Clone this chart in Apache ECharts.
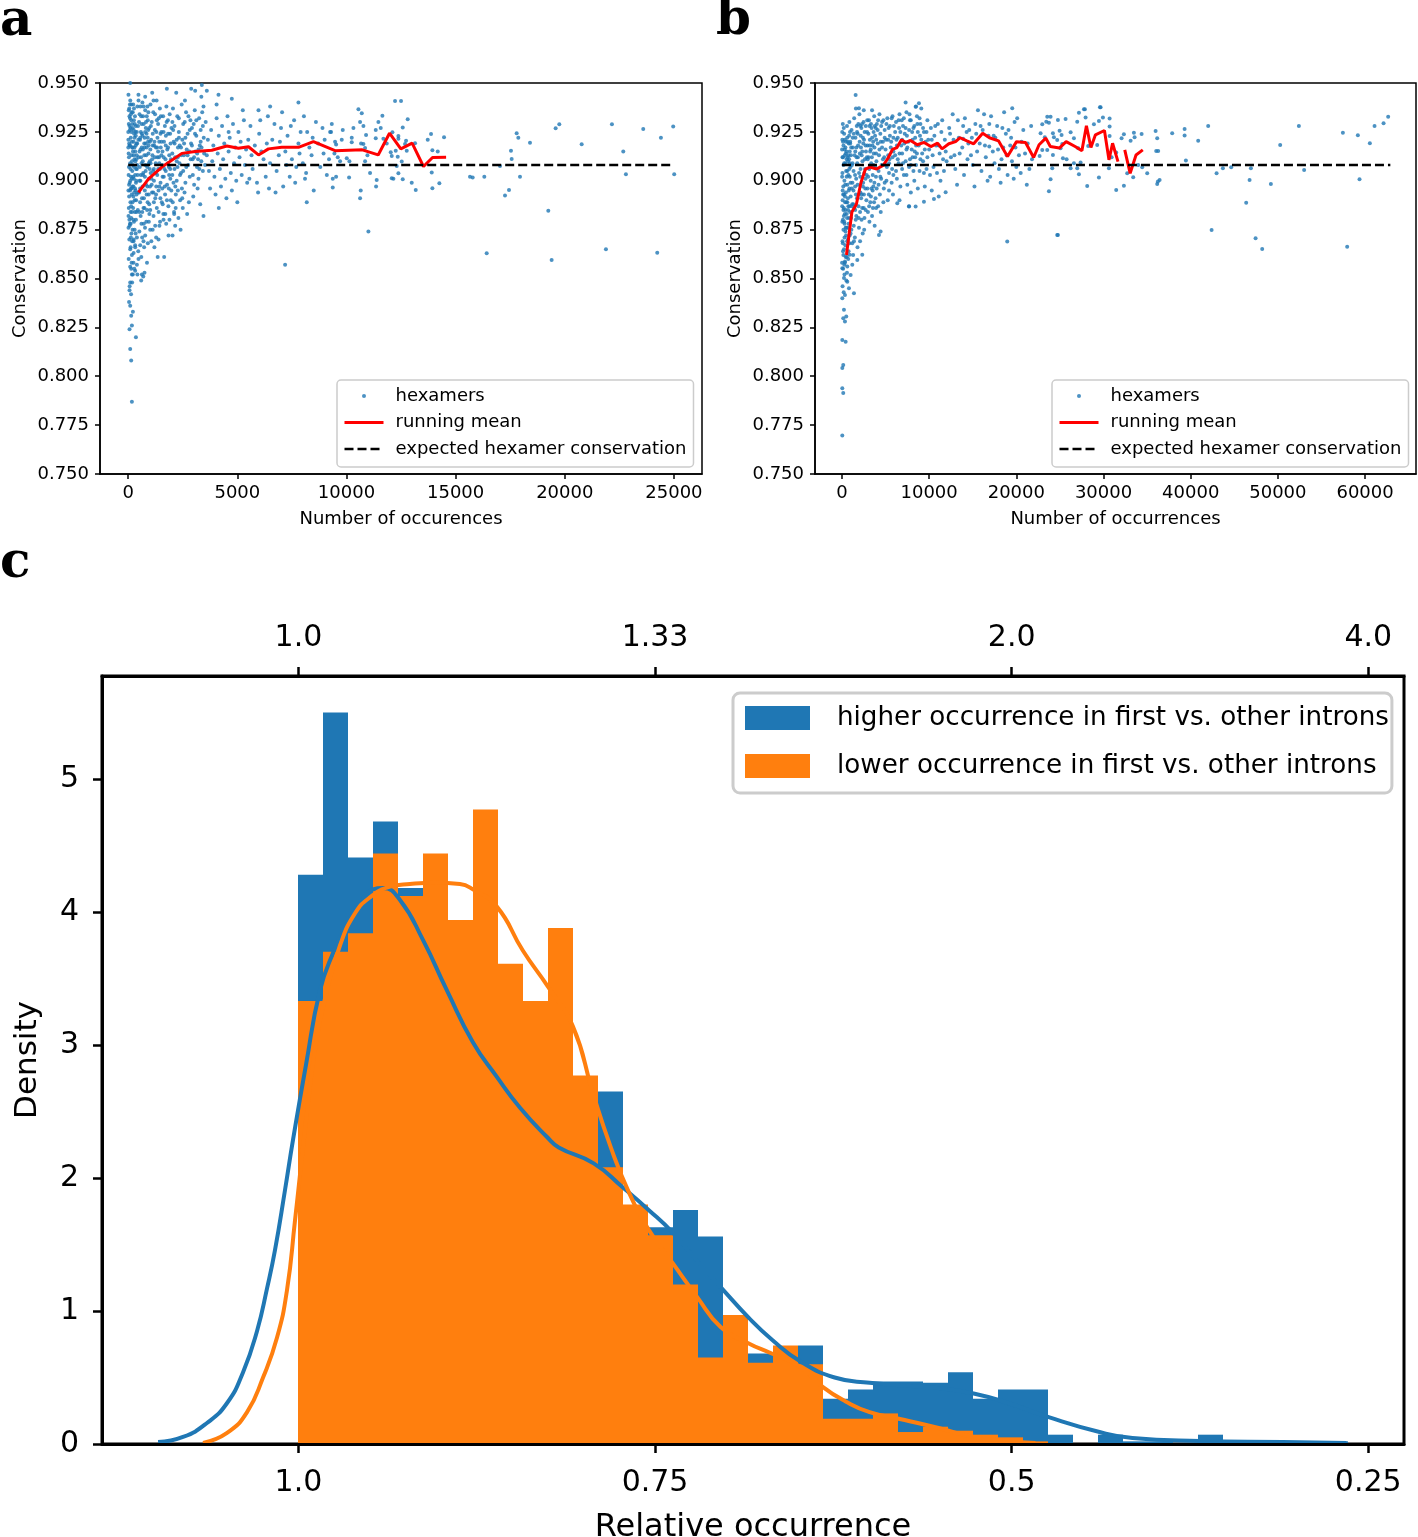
<!DOCTYPE html>
<html><head><meta charset="utf-8">
<script src="https://cdn.jsdelivr.net/npm/echarts@6.0.0/dist/echarts.min.js"></script>
<style>html,body{margin:0;padding:0;background:#fff}#chart{width:1418px;height:1537px}</style>
</head><body><div id="chart"></div>
<script>
// ---------- tick labels ----------
const aTicksX = [0, 5000, 10000, 15000, 20000, 25000];
const bTicksX = [0, 10000, 20000, 30000, 40000, 50000, 60000];
const consTicks = [0.75, 0.775, 0.8, 0.825, 0.85, 0.875, 0.9, 0.925, 0.95];
const cBottomTicks = [1.0, 0.75, 0.5, 0.25];
const cBottomLabels = ['1.0', '0.75', '0.5', '0.25'];
const cTopLabels = ['1.0', '1.33', '2.0', '4.0'];
const densityTicks = [0, 1, 2, 3, 4, 5];

// ---------- panel a ----------
const expectedConservation = 0.908;
const aExpectedRange = [0, 25000];
const aRunMean = [[472,0.894],[930,0.901],[1543,0.907],[2459,0.914],[3068,0.915],[3832,0.9156],[4519,0.9178],[5051,0.9166],[5510,0.9174],[5968,0.9132],[6425,0.9163],[7036,0.9171],[7799,0.9171],[8485,0.920],[9478,0.9154],[10726,0.9158],[11452,0.9132],[11971,0.9243],[12490,0.9163],[13008,0.9192],[13527,0.9073],[13942,0.9119],[14564,0.912]];
const aHexamers = [
[169,0.787],[137,0.808],[92,0.814],[353,0.820],[60,0.824],[169,0.826],[215,0.833],[92,0.836],[137,0.831],[60,0.844],[92,0.848],[169,0.852],[320,0.854],[627,0.852],[746,0.853],[595,0.849],[137,0.855],[243,0.858],[398,0.857],[472,0.860],[169,0.862],[92,0.865],[320,0.866],[549,0.867],[701,0.869],[243,0.869],[122,0.871],[14,0.876],[398,0.871],[778,0.872],[1007,0.875],[1236,0.877],[1389,0.870],[1648,0.861],[1847,0.872],[2030,0.872],[2152,0.877],[2106,0.883],[1618,0.880],[3449,0.882],[7188,0.857],[8181,0.889],[11004,0.874],
[92,0.950],[1771,0.947],[2885,0.947],[3068,0.946],[3373,0.949],[3602,0.946],[4136,0.944],[4747,0.942],[472,0.941],[778,0.943],[1160,0.941],[7799,0.940],[6502,0.938],[5968,0.936],
[12,0.944],[48,0.937],[95,0.941],[160,0.935],[230,0.939],[310,0.933],[27,0.929],[75,0.926],[140,0.931],[205,0.927],[270,0.924],[350,0.928],[8,0.921],[60,0.918],[118,0.922],[178,0.917],[245,0.920],[322,0.915],[385,0.919],[35,0.912],[88,0.909],[150,0.913],[215,0.908],[285,0.911],[360,0.906],[18,0.903],[70,0.899],[128,0.902],[192,0.897],[258,0.901],[335,0.895],[42,0.892],[102,0.889],[165,0.893],[225,0.886],[298,0.890],[375,0.884],[15,0.882],[80,0.878],[138,0.881],[200,0.875],[265,0.879],[340,0.873],[52,0.870],[112,0.866],[183,0.869],[248,0.863],[318,0.867],[22,0.860],[90,0.856],[155,0.858],[212,0.852],[280,0.855],[65,0.846],[130,0.842],[38,0.838],[180,0.848],
[420,0.938],[520,0.934],[650,0.940],[780,0.936],[900,0.931],[450,0.928],[580,0.925],[710,0.929],[840,0.924],[960,0.927],[410,0.919],[540,0.921],[670,0.916],[800,0.919],[930,0.914],[480,0.912],[610,0.909],[740,0.913],[870,0.907],[990,0.910],[430,0.903],[560,0.900],[690,0.904],[820,0.898],[950,0.901],[500,0.894],[630,0.891],[760,0.895],[890,0.889],[440,0.885],[570,0.882],[700,0.886],[830,0.879],[970,0.883],[510,0.874],[640,0.871],[770,0.876],[900,0.868],[460,0.864],[600,0.861],[730,0.866],[860,0.858],[420,0.852],[690,0.851],[550,0.922],[880,0.938],[470,0.944],[620,0.917],[750,0.922],[910,0.920],[530,0.907],[660,0.897],[800,0.905],[940,0.893],
[1020,0.939],[1150,0.935],[1300,0.941],[1450,0.937],[1600,0.933],[1750,0.938],[1900,0.934],[1080,0.930],[1220,0.926],[1370,0.929],[1520,0.925],[1680,0.928],[1830,0.924],[1980,0.927],[1050,0.921],[1190,0.918],[1340,0.922],[1490,0.917],[1640,0.920],[1790,0.916],[1940,0.919],[1110,0.913],[1260,0.909],[1410,0.912],[1560,0.908],[1710,0.911],[1860,0.907],[1030,0.904],[1180,0.900],[1330,0.903],[1480,0.899],[1630,0.902],[1780,0.898],[1930,0.901],[1090,0.894],[1240,0.891],[1390,0.895],[1540,0.889],[1690,0.893],[1840,0.887],[1010,0.885],[1160,0.882],[1310,0.886],[1460,0.879],[1610,0.883],[1120,0.875],[1280,0.871],[1430,0.877],[1200,0.866],[1060,0.869],[1350,0.861],[1740,0.878],[1950,0.890],[1570,0.915],[1820,0.931],[1270,0.917],[1100,0.945],[1400,0.932],[1720,0.905],[1880,0.913],
[2050,0.937],[2250,0.933],[2450,0.939],[2650,0.935],[2850,0.931],[3050,0.936],[3250,0.932],[3450,0.938],[2120,0.928],[2320,0.925],[2520,0.929],[2720,0.924],[2920,0.927],[3120,0.923],[3320,0.926],[2080,0.920],[2280,0.917],[2480,0.921],[2680,0.916],[2880,0.919],[3080,0.915],[3280,0.918],[3480,0.914],[2150,0.912],[2350,0.909],[2550,0.913],[2750,0.908],[2950,0.911],[3150,0.907],[3350,0.910],[2020,0.903],[2220,0.900],[2420,0.904],[2620,0.899],[2820,0.902],[3020,0.898],[3220,0.901],[3420,0.905],[2180,0.893],[2380,0.890],[2580,0.894],[2780,0.889],[2980,0.892],[3180,0.896],[2100,0.884],[2300,0.881],[2500,0.886],[2700,0.883],[2400,0.875],[3300,0.888],[2600,0.941],[3350,0.943],[2200,0.945],
[3550,0.930],[3800,0.926],[4050,0.932],[4300,0.928],[4550,0.933],[4800,0.929],[5050,0.925],[5300,0.931],[3650,0.921],[3900,0.918],[4150,0.923],[4400,0.919],[4650,0.922],[4900,0.917],[5150,0.920],[5400,0.916],[3600,0.913],[3850,0.910],[4100,0.914],[4350,0.911],[4600,0.915],[4850,0.909],[5100,0.912],[5350,0.908],[3700,0.905],[3950,0.902],[4200,0.906],[4450,0.901],[4700,0.904],[4950,0.900],[5200,0.903],[5450,0.899],[3750,0.896],[4000,0.893],[4250,0.897],[4500,0.891],[4750,0.895],[5000,0.889],[4150,0.886],[3520,0.908],[4600,0.925],[5500,0.921],[5250,0.936],[4050,0.939],
[5600,0.928],[5800,0.918],[6000,0.924],[6200,0.911],[6400,0.933],[6600,0.921],[6800,0.905],[7000,0.927],[7200,0.915],[7400,0.902],[7600,0.931],[7800,0.919],[8000,0.909],[8200,0.925],[8400,0.913],[8600,0.930],[8800,0.907],[9000,0.921],[9200,0.911],[5700,0.906],[5900,0.899],[6100,0.915],[6300,0.902],[6500,0.909],[6700,0.929],[6900,0.913],[7100,0.897],[7300,0.923],[7500,0.911],[7700,0.907],[7900,0.925],[8100,0.901],[8300,0.917],[8500,0.895],[8700,0.919],[8900,0.927],[9100,0.903],[5650,0.913],[6050,0.931],[6450,0.896],[7050,0.935],[7650,0.899],[8050,0.933],[5550,0.901],[6350,0.919],[6950,0.920],[7450,0.928],[7850,0.914],[8450,0.922],[8950,0.914],[5950,0.894],[6750,0.894],[7250,0.908],[8150,0.904],[9250,0.925],
[9327,0.929],[9295,0.925],[9478,0.920],[9524,0.9185],[9447,0.914],[9600,0.912],[9707,0.910],[9829,0.926],[9783,0.921],[9371,0.901],[9524,0.902],[9371,0.8965],[10012,0.9115],[10134,0.910],[10119,0.9016],[10241,0.922],[10241,0.9197],[10318,0.927],[10547,0.9366],[10700,0.9345],[10623,0.930],[10776,0.928],[10669,0.919],[10776,0.9188],[10852,0.9168],[10897,0.9234],[10852,0.910],[10959,0.913],[10653,0.895],[10623,0.891],[11080,0.904],[11340,0.926],[11340,0.9217],[11385,0.9004],[11355,0.897],[11462,0.930],[11569,0.927],[11645,0.9333],[11691,0.9215],[11844,0.919],[12027,0.9146],[12073,0.9127],[12073,0.9013],[12149,0.901],[12103,0.9248],[12225,0.9408],[12500,0.9408],[12256,0.9154],[12348,0.9123],[12302,0.9076],[12378,0.9229],[12378,0.9215],[12577,0.9272],[12531,0.9098],[12378,0.9038],[12577,0.9008],[12683,0.9188],[12729,0.9205],[12760,0.9154],[12805,0.9314],[12989,0.899],[13141,0.9192],[13172,0.8953],[13722,0.921],[13874,0.9239],[13935,0.9156],[13905,0.9042],[13935,0.8962],[14180,0.9149],[14255,0.8987],[14469,0.9222],
[15659,0.9021],[15782,0.9016],[16314,0.9021],[16423,0.8629],[17033,0.9076],[17262,0.8924],[17445,0.8953],[17567,0.9111],[17536,0.9154],[17796,0.9243],[17872,0.922],[17949,0.9021],[18407,0.9195],[19245,0.8847],[19399,0.8595],[19582,0.9268],[19749,0.9289],[20774,0.9187],[21886,0.865],[22161,0.9289],[22680,0.9149],[22802,0.9033],[23595,0.9265],[24236,0.8632],[24405,0.922],[24968,0.9277],[25014,0.9033]
];
const aHexamersCore = [
[5,0.917],[33,0.907],[58,0.933],[84,0.895],[110,0.927],[134,0.887],[162,0.920],[188,0.905],[218,0.915],[240,0.897],[262,0.931],[292,0.922],[318,0.903],[344,0.918],[372,0.911],[395,0.925],[28,0.886],[66,0.877],[97,0.900],[123,0.934],[147,0.873],[174,0.910],[197,0.889],[233,0.880],[255,0.913],[277,0.894],[305,0.884],[330,0.925],[356,0.899],[382,0.893],[10,0.895],[45,0.919],[78,0.939],[108,0.884],[158,0.896],[208,0.935],[250,0.870],[300,0.929],[365,0.890],[398,0.906],
[520,0.915],[575,0.903],[615,0.929],[668,0.910],[722,0.891],[775,0.925],[828,0.913],[880,0.897],[935,0.918],[985,0.906],[1040,0.928],[1095,0.911],[1150,0.894],[1205,0.920],[1260,0.904],[1315,0.931],[1370,0.915],[1425,0.897],[1480,0.924],[505,0.884],[560,0.938],[605,0.878],[655,0.923],[715,0.878],[765,0.902],[815,0.930],[865,0.885],[915,0.926],[965,0.888],[1015,0.916],[1065,0.901],[1125,0.924],[1175,0.889],[1230,0.934],[1285,0.897],[1340,0.912],[1395,0.884],[1450,0.906],[1495,0.933],[545,0.896],[590,0.912],[680,0.933],[745,0.917],[850,0.933],[1000,0.897],[1140,0.905],[1290,0.925],[1420,0.920],
[1520,0.913],[1620,0.925],[1720,0.918],[1820,0.909],[1920,0.924],[2020,0.914],[2120,0.906],[2220,0.921],[2320,0.932],[2420,0.917],[2520,0.905],[2620,0.922],[2720,0.913],[2820,0.926],[2920,0.918],[3020,0.912],[3120,0.931],[3220,0.916],[3320,0.920],[3420,0.928],[1560,0.896],[1660,0.906],[1760,0.930],[1860,0.896],[1960,0.911],[2060,0.926],[2160,0.897],[2260,0.907],[2360,0.918],[2460,0.896],[2560,0.919],[2660,0.907],[2760,0.933],[2860,0.911],[2960,0.903],[3060,0.924],[3160,0.914],[3260,0.906],[3360,0.917],[3460,0.922],[1580,0.888],[1700,0.883],[1890,0.880],[2040,0.889],[2270,0.912],[2590,0.930],[2800,0.915],[3000,0.929],[3200,0.911],[3390,0.935],
[3,0.925],[20,0.914],[40,0.898],[62,0.928],[86,0.918],[104,0.906],[126,0.896],[144,0.925],[168,0.901],[186,0.929],[202,0.917],[228,0.902],[252,0.926],[268,0.907],[288,0.917],[312,0.896],[328,0.910],[348,0.923],[368,0.900],[390,0.913],[55,0.880],[115,0.878],[175,0.884],[235,0.892],[295,0.875],[355,0.880],[25,0.936],[85,0.932],[145,0.939],[265,0.937],
[415,0.908],[465,0.921],[515,0.900],[565,0.916],[625,0.924],[675,0.903],[735,0.919],[785,0.908],[845,0.917],[895,0.922],[945,0.909],[995,0.920],[445,0.894],[545,0.889],[645,0.884],[745,0.886],[845,0.893],[945,0.879],[495,0.930],[595,0.933],[705,0.938],[805,0.927],[925,0.935],
[1025,0.909],[1125,0.918],[1225,0.912],[1325,0.917],[1425,0.909],[1525,0.920],[1625,0.912],[1725,0.923],[1825,0.917],[1925,0.906],[2025,0.930],[2125,0.919],[2225,0.910],[2325,0.922],[2425,0.913],[1075,0.898],[1175,0.906],[1275,0.893],[1375,0.906],[1475,0.891],[1575,0.902],[1675,0.897],[1775,0.890],[1875,0.903],[1975,0.895],[2075,0.899],[2175,0.886],[2275,0.895],[2375,0.903],[2475,0.891]
];

// ---------- panel b ----------
const bExpectedRange = [0, 62900];
const bRunMean = [[517,0.862],[1138,0.884],[1655,0.888],[2173,0.899],[2690,0.906],[3207,0.907],[3983,0.906],[4759,0.908],[5276,0.9115],[5794,0.916],[6311,0.917],[6828,0.921],[7345,0.9196],[7863,0.9206],[8639,0.9184],[9415,0.9196],[10191,0.9175],[10967,0.9192],[11484,0.9163],[12260,0.9189],[13036,0.920],[13554,0.922],[14330,0.9204],[15106,0.9189],[16140,0.9243],[16916,0.922],[17951,0.9204],[18986,0.9124],[20020,0.920],[21055,0.9196],[21986,0.9119],[22607,0.9184],[23383,0.9218],[23900,0.9175],[24935,0.9167],[25711,0.920],[26746,0.9175],[27522,0.9153],[28039,0.9281],[28556,0.917],[29074,0.9235],[30108,0.9257],[30625,0.9107],[31039,0.9192],[31660,0.9098],[32000,'-'],[32436,0.9158],[33056,0.9038],[33729,0.9132],[34505,0.9158]];
const bHexamers = [
[38,0.7697],[149,0.7914],[38,0.7939],[38,0.8042],[149,0.8058],[38,0.8186],[424,0.8177],[344,0.828],[149,0.8297],[493,0.8306],[229,0.834],[38,0.8399],[344,0.8416],[803,0.845],[1376,0.8424],[612,0.8484],[229,0.8502],[994,0.8518],[38,0.8553],[612,0.8561],[1185,0.857],[1758,0.8595],[344,0.8587],[2331,0.8621],[880,0.8621],
[4243,0.8723],[4434,0.874],[7683,0.8868],[8449,0.8868],[9404,0.8893],[10550,0.8907],[11892,0.8941],[6346,0.8885],[18956,0.8689],[24690,0.8723],[1567,0.9439],[1950,0.9371],[8830,0.9396],[8449,0.9379],[19530,0.9371],[27752,0.9366],[29667,0.9376],[23547,0.9328],
[30,0.925],[120,0.920],[250,0.924],[400,0.917],[600,0.922],[60,0.912],[180,0.908],[320,0.913],[480,0.905],[700,0.910],[20,0.902],[150,0.897],[280,0.900],[450,0.894],[620,0.898],[80,0.890],[210,0.886],[360,0.889],[540,0.883],[730,0.887],[40,0.879],[170,0.875],[300,0.878],[470,0.872],[650,0.876],[100,0.868],[230,0.865],[390,0.867],[560,0.861],[10,0.858],[140,0.855],[290,0.852],[500,0.849],[70,0.846],[200,0.843],[760,0.864],[340,0.858],
[850,0.930],[1100,0.926],[1400,0.932],[1700,0.928],[2000,0.934],[2300,0.929],[2600,0.925],[2900,0.931],[950,0.920],[1250,0.917],[1550,0.922],[1850,0.918],[2150,0.923],[2450,0.919],[2750,0.915],[820,0.911],[1150,0.908],[1450,0.913],[1750,0.909],[2050,0.914],[2350,0.910],[2650,0.906],[2950,0.911],[900,0.902],[1200,0.899],[1500,0.903],[1800,0.898],[2100,0.902],[2400,0.897],[2700,0.901],[1000,0.892],[1300,0.888],[1600,0.893],[1900,0.887],[2200,0.891],[2500,0.886],[2800,0.890],[1050,0.881],[1350,0.877],[1650,0.882],[1950,0.876],[2250,0.880],[2550,0.875],[880,0.872],[1180,0.868],[1480,0.871],[1780,0.866],[2080,0.869],[1280,0.862],[2380,0.873],[2980,0.884],[1600,0.937],[2500,0.936],
[3100,0.931],[3400,0.927],[3700,0.933],[4000,0.929],[4300,0.934],[4600,0.930],[4900,0.926],[5200,0.932],[5500,0.928],[5800,0.933],[3200,0.921],[3500,0.918],[3800,0.923],[4100,0.919],[4400,0.924],[4700,0.920],[5000,0.916],[5300,0.921],[5600,0.917],[5900,0.922],[3050,0.912],[3350,0.909],[3650,0.914],[3950,0.910],[4250,0.913],[4550,0.908],[4850,0.912],[5150,0.907],[5450,0.911],[5750,0.906],[3300,0.900],[3600,0.897],[3900,0.902],[4200,0.898],[4500,0.901],[4800,0.896],[5100,0.900],[5400,0.895],[5700,0.899],[3250,0.889],[3550,0.886],[3850,0.891],[4150,0.887],[4450,0.884],[4750,0.889],[3150,0.879],[3450,0.882],[3750,0.877],[4350,0.893],[5250,0.890],[5850,0.893],[3450,0.936],
[6200,0.930],[6600,0.934],[7000,0.928],[7400,0.935],[7800,0.931],[8200,0.927],[8600,0.933],[9000,0.929],[9400,0.925],[9800,0.931],[10200,0.927],[10600,0.923],[11000,0.929],[11400,0.925],[11800,0.921],[6400,0.922],[6800,0.918],[7200,0.924],[7600,0.920],[8000,0.916],[8400,0.922],[8800,0.918],[9200,0.914],[9600,0.920],[10000,0.916],[10400,0.913],[10800,0.918],[11200,0.914],[11600,0.911],[6100,0.913],[6500,0.909],[6900,0.914],[7300,0.910],[7700,0.907],[8100,0.912],[8500,0.908],[8900,0.905],[9300,0.910],[9700,0.906],[10100,0.903],[10500,0.907],[10900,0.904],[11300,0.900],[11700,0.905],[6300,0.901],[6700,0.897],[7100,0.903],[7500,0.898],[7900,0.894],[8300,0.900],[8700,0.896],[9500,0.897],[10300,0.895],[11100,0.892],[6600,0.890],[7700,0.887],[8500,0.938],[9100,0.937],[7300,0.940],[12000,0.910],
[12300,0.927],[12800,0.921],[13300,0.931],[13800,0.917],[14300,0.925],[14800,0.913],[15300,0.929],[15800,0.919],[16300,0.934],[16800,0.923],[17300,0.915],[17800,0.928],[18300,0.911],[18800,0.924],[19300,0.918],[19800,0.930],[20300,0.913],[20800,0.926],[21300,0.919],[21800,0.911],[12500,0.912],[13000,0.906],[13500,0.914],[14000,0.903],[14500,0.919],[15000,0.908],[15500,0.915],[16000,0.905],[16500,0.912],[17000,0.902],[17500,0.909],[18000,0.906],[18500,0.917],[19000,0.903],[19500,0.910],[20000,0.907],[20500,0.904],[21000,0.914],[21500,0.906],[12700,0.934],[14100,0.932],[15600,0.936],[17100,0.933],[18600,0.935],[20100,0.932],[21700,0.928],[13200,0.898],[15200,0.897],[16700,0.900],[18200,0.899],[19700,0.901],[21200,0.898],[14600,0.926],[17600,0.922],[20600,0.920],[16140,0.926],[13900,0.9215],[16900,0.9175],[19100,0.926],
[22975,0.9289],[23433,0.9302],[23929,0.9328],[23739,0.9297],[22783,0.9243],[23268,0.9222],[24197,0.9243],[24312,0.9222],[22975,0.9157],[23548,0.9157],[22669,0.9127],[24197,0.9132],[24121,0.9064],[23929,0.9008],[23739,0.8946],[24771,0.8723],[24771,0.9311],[25650,0.9316],[24962,0.9256],[25192,0.9234],[24690,0.9209],[25264,0.9188],[25073,0.9166],[25344,0.9115],[25767,0.911],[26227,0.9248],[26606,0.9217],[26985,0.9302],[27179,0.9348],[27867,0.9366],[27943,0.9323],[26606,0.9089],[26227,0.9064],[26985,0.9064],[27179,0.9033],[27370,0.9093],[27099,0.9166],[28131,0.8973],[28245,0.9178],[28899,0.9289],[29472,0.9306],[29931,0.9323],[29587,0.9376],[29277,0.9183],[29472,0.9016],[30700,0.9319],[30700,0.9277],[30700,0.9229],[30619,0.9064],[31456,0.8953],[32073,0.9217],[32339,0.9238],[32339,0.8975],[33108,0.9205],[33486,0.9246],[33563,0.9222],[33406,0.9018],[32718,0.9038],[34369,0.9239],[33979,0.9081],[31456,0.9144],[30929,0.912],
[35975,0.9255],[36159,0.9217],[36044,0.9152],[36273,0.9152],[36239,0.8996],[36434,0.9004],[36159,0.8984],[35012,0.9038],[34438,0.9069],[37878,0.9243],[39300,0.9265],[39300,0.9231],[39450,0.9103],[40860,0.9205],[42007,0.928],[42397,0.8748],[42970,0.9038],[43693,0.9064],[44645,0.9069],[46365,0.8888],[46755,0.9004],[46904,0.9064],[47443,0.8706],[48203,0.8651],[49197,0.8984],[50264,0.9183],[52408,0.928],[53013,0.9055],[57454,0.9246],[57947,0.8663],[59174,0.9233],[59365,0.9008],[60550,0.9192],[61086,0.928],[62122,0.9294],[62649,0.9328]
];
const bHexamersCore = [
[15,0.916],[55,0.904],[95,0.929],[135,0.893],[175,0.918],[215,0.882],[255,0.909],[295,0.871],[335,0.921],[375,0.898],[415,0.885],[455,0.914],[495,0.876],[535,0.902],[575,0.928],[615,0.889],[655,0.912],[695,0.870],[735,0.903],[775,0.919],[815,0.881],[855,0.896],[895,0.915],[935,0.884],[975,0.907],[25,0.887],[65,0.869],[110,0.880],[160,0.862],[245,0.893],[325,0.883],[430,0.861],[520,0.915],[590,0.869],[680,0.891],[760,0.878],[840,0.906],[920,0.925],[990,0.873],
[1030,0.913],[1130,0.896],[1230,0.922],[1330,0.905],[1430,0.886],[1530,0.915],[1630,0.901],[1730,0.925],[1830,0.912],[1930,0.893],[2030,0.920],[2130,0.906],[2230,0.927],[2330,0.915],[2430,0.899],[2530,0.921],[2630,0.911],[2730,0.928],[2830,0.903],[2930,0.918],[3030,0.924],[3130,0.906],[3230,0.915],[3330,0.929],[3430,0.912],[3530,0.903],[3630,0.925],[3730,0.917],[3830,0.907],[3930,0.921],[1080,0.875],[1180,0.888],[1380,0.869],[1580,0.880],[1680,0.912],[1880,0.929],[2080,0.884],[2180,0.917],[2280,0.893],[2480,0.930],[2580,0.881],[2680,0.896],[2880,0.925],[3080,0.893],[3180,0.918],[3380,0.896],[3580,0.920],[3680,0.889],[3880,0.927],[3980,0.896],
[4100,0.926],[4300,0.916],[4500,0.928],[4700,0.911],[4900,0.922],[5100,0.929],[5300,0.913],[5500,0.923],[5700,0.932],[5900,0.915],[6100,0.925],[6300,0.918],[6500,0.931],[6700,0.925],[6900,0.921],[7100,0.932],[7300,0.927],[7500,0.917],[7700,0.926],[7900,0.931],[8100,0.921],[8300,0.928],[8500,0.918],[8700,0.925],[8900,0.932],[9100,0.921],[9300,0.927],[9500,0.916],[9700,0.925],[9900,0.921],[4200,0.905],[4600,0.917],[5000,0.908],[5400,0.904],[5800,0.912],[6200,0.905],[6600,0.914],[7000,0.909],[7400,0.916],[7800,0.911],[8200,0.905],[8600,0.914],[9000,0.911],[9400,0.904],[9800,0.912],
[10300,0.921],[10700,0.928],[11100,0.918],[11500,0.931],[11900,0.915],[12400,0.924],[12900,0.913],[13400,0.922],[13900,0.928],[14400,0.911],[14900,0.922],[15400,0.924],[15900,0.928],[16400,0.918],[16900,0.929],[17400,0.923],[17900,0.916],[18400,0.927],[18900,0.913],[19400,0.922],[19900,0.917],
[45,0.921],[85,0.895],[125,0.912],[165,0.885],[205,0.927],[265,0.879],[305,0.916],[345,0.892],[385,0.909],[425,0.876],[465,0.920],[505,0.889],[545,0.911],[585,0.881],[625,0.905],[665,0.920],[705,0.885],[745,0.913],[785,0.895],[825,0.923],[865,0.887],[905,0.909],[945,0.919],[985,0.899],[120,0.864],[270,0.857],[400,0.874],[580,0.853],[720,0.860],[860,0.868],
[1060,0.917],[1210,0.909],[1360,0.924],[1510,0.897],[1660,0.917],[1810,0.924],[1960,0.904],[2110,0.928],[2260,0.913],[2410,0.922],[2560,0.904],[2710,0.918],[2860,0.912],[3010,0.902],[3160,0.928],[3310,0.916],[3460,0.922],[3610,0.908],[3760,0.928],[3910,0.914],[1120,0.887],[1320,0.895],[1520,0.885],[1720,0.891],[1920,0.881],[2120,0.894],[2320,0.886],[2520,0.893],[2720,0.885],[2920,0.896],[3120,0.887],[3320,0.892],[3520,0.895],[3720,0.899],[3920,0.886],
[4150,0.931],[4450,0.920],[4750,0.931],[5050,0.921],[5350,0.927],[5650,0.920],[5950,0.928],[6250,0.921],[6550,0.927],[6850,0.931],[7150,0.919],[7450,0.923],[7750,0.934],[8050,0.925],[8350,0.915],[8650,0.929],[8950,0.923],[4400,0.902],[4900,0.899],[5400,0.909],[5900,0.903],[6400,0.911],[6900,0.906],[7400,0.903],[7900,0.908],[8400,0.912]
];

// ---------- panel c ----------
const binStart = 1.0;
const binWidth = 0.01752;
const blueDensity = [4.28,5.50,4.41,4.68,4.18,4.00,3.60,3.60,3.10,2.80,2.40,2.40,2.65,1.70,1.63,1.76,1.56,0.90,0.68,0.60,0.74,0.34,0.41,0.47,0.47,0.46,0.54,0.34,0.41,0.41,0.07,0.0,0.07,0.02,0.02,0.0,0.07,0.02,0.0,0.02,0.02,0.02];
const orangeDensity = [3.33,3.70,3.84,4.44,4.12,4.44,3.94,4.77,3.61,3.33,3.88,2.77,2.08,1.80,1.57,1.20,0.65,0.97,0.61,0.74,0.60,0.19,0.19,0.23,0.09,0.13,0.10,0.07,0.05,0.02];
const blueKde = [[1.0984,0.015],[1.0809,0.053],[1.0641,0.158],[1.0500,0.308],[1.0388,0.540],[1.0290,0.850],[1.0220,1.170],[1.0164,1.459],[1.0094,1.910],[1.0038,2.286],[0.9947,2.85],[0.9849,3.41],[0.9750,3.71],[0.9659,3.92],[0.9568,4.07],[0.9477,4.17],[0.9407,4.18],[0.9288,4.09],[0.9127,3.79],[0.8959,3.41],[0.8777,3.02],[0.8609,2.76],[0.8448,2.53],[0.8259,2.31],[0.8175,2.23],[0.7930,2.11],[0.7727,1.93],[0.7545,1.76],[0.7376,1.59],[0.7208,1.38],[0.7040,1.18],[0.6844,0.95],[0.6676,0.78],[0.6480,0.62],[0.6241,0.50],[0.5996,0.46],[0.5757,0.44],[0.5512,0.42],[0.5267,0.38],[0.5029,0.31],[0.4735,0.20],[0.4384,0.09],[0.4153,0.045],[0.3683,0.023],[0.3101,0.015],[0.2653,0.008]];
const orangeKde = [[1.0669,0.008],[1.0500,0.083],[1.0360,0.240],[1.0248,0.500],[1.0150,0.800],[1.0080,1.158],[1.0024,1.68],[0.9954,2.36],[0.9884,2.96],[0.9800,3.41],[0.9708,3.75],[0.9603,3.99],[0.9498,4.11],[0.9358,4.19],[0.9218,4.21],[0.9043,4.22],[0.8868,4.21],[0.8777,4.17],[0.8609,4.04],[0.8427,3.71],[0.8252,3.44],[0.8076,3.14],[0.7936,2.64],[0.7810,2.23],[0.7691,1.91],[0.7544,1.61],[0.7376,1.36],[0.7208,1.11],[0.7040,0.88],[0.6850,0.76],[0.6682,0.68],[0.6480,0.58],[0.6325,0.43],[0.6164,0.32],[0.5996,0.24],[0.5750,0.18],[0.5512,0.12],[0.5267,0.053],[0.5029,0.023],[0.4833,0.008]];

// ---------- build ----------
const FONT = 'DejaVu Sans';
const BLUE = '#1f77b4', ORANGE = '#ff7f0e';
const chart = echarts.init(document.getElementById('chart'), null, {renderer: 'canvas'});

function bins(heights) {
  return heights.map((h, i) => [binStart - i * binWidth, binStart - (i + 1) * binWidth, h]);
}
function histItem(params, api) {
  const a = api.coord([api.value(0), api.value(2)]);
  const b = api.coord([api.value(1), 0]);
  const x0 = Math.round(Math.min(a[0], b[0])), x1 = Math.round(Math.max(a[0], b[0]));
  return {
    type: 'rect',
    shape: {x: x0, y: a[1], width: x1 - x0, height: b[1] - a[1]},
    style: {fill: api.visual('color')}
  };
}
function near(list, v) { return list.findIndex(t => Math.abs(t - v) < 1e-6); }

const txt = (size) => ({fontSize: size, fontFamily: FONT, color: '#000'});

function smallX(grid, min, max, ticks, name) {
  return {
    type: 'value', gridIndex: grid, min: min, max: max, z: 5,
    axisLine: {show: true, onZero: false, lineStyle: {color: '#000', width: 1.5}},
    axisTick: {show: true, length: 5, customValues: ticks, lineStyle: {color: '#000', width: 1.5}},
    axisLabel: Object.assign({customValues: ticks, margin: 10, formatter: v => String(Math.round(v))}, txt(18)),
    splitLine: {show: false},
    name: name, nameLocation: 'middle', nameGap: 36, nameTextStyle: txt(18)
  };
}
function smallY(grid) {
  return {
    type: 'value', gridIndex: grid, min: 0.75, max: 0.95, z: 5,
    axisLine: {show: true, onZero: false, lineStyle: {color: '#000', width: 1.5}},
    axisTick: {show: true, length: 5, customValues: consTicks, lineStyle: {color: '#000', width: 1.5}},
    axisLabel: Object.assign({customValues: consTicks, margin: 11, formatter: v => v.toFixed(3)}, txt(18)),
    splitLine: {show: false},
    name: 'Conservation', nameLocation: 'middle', nameGap: 71, nameTextStyle: txt(18)
  };
}
function smallLegend(left) {
  return {
    left: left, top: 380, orient: 'vertical', selectedMode: false,
    data: [
      {name: 'hexamers', icon: 'circle'},
      {name: 'running mean', itemStyle: {opacity: 0}},
      {name: 'expected hexamer conservation', itemStyle: {opacity: 0}}
    ],
    itemWidth: 39, itemHeight: 4, itemGap: 8.5,
    padding: [7, 7, 9, 6],
    borderColor: '#cccccc', borderWidth: 1.5, borderRadius: 4,
    backgroundColor: 'rgba(255,255,255,0.8)',
    lineStyle: {width: 'inherit'},
    textStyle: Object.assign({padding: [0, 0, 0, 7]}, txt(18))
  };
}
function panelSeries(ax, hex, run, range) {
  return [
    {type: 'scatter', name: 'hexamers', xAxisIndex: ax, yAxisIndex: ax, data: hex, symbolSize: 4,
     itemStyle: {color: BLUE}, z: 2, silent: true},
    {type: 'line', name: 'running mean', xAxisIndex: ax, yAxisIndex: ax, data: run, symbol: 'none',
     lineStyle: {color: '#ff0000', width: 3}, itemStyle: {color: '#ff0000'}, z: 3, silent: true},
    {type: 'line', name: 'expected hexamer conservation', xAxisIndex: ax, yAxisIndex: ax,
     data: [[range[0], expectedConservation], [range[1], expectedConservation]], symbol: 'none',
     lineStyle: {color: '#000', width: 2.5, type: [9, 4]}, itemStyle: {color: '#000'}, z: 4, silent: true}
  ];
}

const cMin = 0.22495, cMax = 1.1377;

const option = {
  animation: false,
  backgroundColor: '#fff',
  textStyle: {fontFamily: FONT},
  grid: [
    {left: 100, top: 83, width: 602, height: 391, show: true, borderColor: '#000', borderWidth: 1.5, backgroundColor: 'transparent', outerBoundsMode: 'none', containLabel: false},
    {left: 815, top: 83, width: 601, height: 391, show: true, borderColor: '#000', borderWidth: 1.5, backgroundColor: 'transparent', outerBoundsMode: 'none', containLabel: false},
    {left: 102, top: 676, width: 1302, height: 768, show: true, borderColor: '#000', borderWidth: 3, backgroundColor: 'transparent', outerBoundsMode: 'none', containLabel: false}
  ],
  xAxis: [
    smallX(0, -1292, 26287, aTicksX, 'Number of occurences'),
    smallX(1, -3092, 65842, bTicksX, 'Number of occurrences'),
    {
      type: 'value', gridIndex: 2, min: cMin, max: cMax, inverse: true, z: 5,
      axisLine: {show: true, onZero: false, lineStyle: {color: '#000', width: 3}},
      axisTick: {show: true, length: 9, customValues: cBottomTicks, lineStyle: {color: '#000', width: 2.5}},
      axisLabel: Object.assign({customValues: cBottomTicks, margin: 24,
        formatter: v => cBottomLabels[near(cBottomTicks, v)] || ''}, txt(30)),
      splitLine: {show: false},
      name: 'Relative occurrence', nameLocation: 'middle', nameGap: 68, nameTextStyle: txt(32)
    },
    {
      type: 'value', gridIndex: 2, position: 'top', min: cMin, max: cMax, inverse: true, z: 5,
      axisLine: {show: true, onZero: false, lineStyle: {color: '#000', width: 3}},
      axisTick: {show: true, length: 9, customValues: cBottomTicks, lineStyle: {color: '#000', width: 2.5}},
      axisLabel: Object.assign({customValues: cBottomTicks, margin: 23,
        formatter: v => cTopLabels[near(cBottomTicks, v)] || ''}, txt(30)),
      splitLine: {show: false}
    }
  ],
  yAxis: [
    smallY(0),
    smallY(1),
    {
      type: 'value', gridIndex: 2, min: 0, max: 5.774, z: 5,
      axisLine: {show: true, onZero: false, lineStyle: {color: '#000', width: 3}},
      axisTick: {show: true, length: 9, customValues: densityTicks, lineStyle: {color: '#000', width: 2.5}},
      axisLabel: Object.assign({customValues: densityTicks, margin: 23, formatter: v => String(Math.round(v))}, txt(30)),
      splitLine: {show: false},
      name: 'Density', nameLocation: 'middle', nameGap: 59, nameTextStyle: txt(31)
    }
  ],
  legend: [
    smallLegend(337),
    smallLegend(1052),
    {
      left: 733, top: 693, orient: 'vertical', selectedMode: false,
      data: [
        {name: 'higher occurrence in first vs. other introns', icon: 'rect'},
        {name: 'lower occurrence in first vs. other introns', icon: 'rect'}
      ],
      itemWidth: 65, itemHeight: 24, itemGap: 22,
      padding: [12, 3, 14, 12],
      borderColor: '#cccccc', borderWidth: 3, borderRadius: 7,
      backgroundColor: 'rgba(255,255,255,0.8)',
      textStyle: Object.assign({padding: [0, 0, 0, 22]}, txt(26.2))
    }
  ],
  graphic: [
    {type: 'text', left: 0, top: -3, style: {text: 'a', font: 'bold 50px "DejaVu Serif"', fill: '#000'}},
    {type: 'text', left: 716, top: -4, style: {text: 'b', font: 'bold 50px "DejaVu Serif"', fill: '#000'}},
    {type: 'text', left: 0, top: 539, style: {text: 'c', font: 'bold 50px "DejaVu Serif"', fill: '#000'}}
  ],
  series: [].concat(
    panelSeries(0, aHexamers.concat(aHexamersCore), aRunMean, aExpectedRange),
    panelSeries(1, bHexamers.concat(bHexamersCore), bRunMean, bExpectedRange),
    [
      {type: 'custom', name: 'higher occurrence in first vs. other introns', xAxisIndex: 2, yAxisIndex: 2,
       data: bins(blueDensity), encode: {x: [0, 1], y: 2}, renderItem: histItem, itemStyle: {color: BLUE}, z: 2, silent: true},
      {type: 'custom', name: 'lower occurrence in first vs. other introns', xAxisIndex: 2, yAxisIndex: 2,
       data: bins(orangeDensity), encode: {x: [0, 1], y: 2}, renderItem: histItem, itemStyle: {color: ORANGE}, z: 2, silent: true},
      {type: 'line', name: 'blue kde', xAxisIndex: 2, yAxisIndex: 2, data: blueKde, symbol: 'none', smooth: 0.5,
       lineStyle: {color: BLUE, width: 4}, z: 3, silent: true},
      {type: 'line', name: 'orange kde', xAxisIndex: 2, yAxisIndex: 2, data: orangeKde, symbol: 'none', smooth: 0.5,
       lineStyle: {color: ORANGE, width: 4}, z: 3, silent: true}
    ]
  )
};
chart.setOption(option);
</script></body></html>
